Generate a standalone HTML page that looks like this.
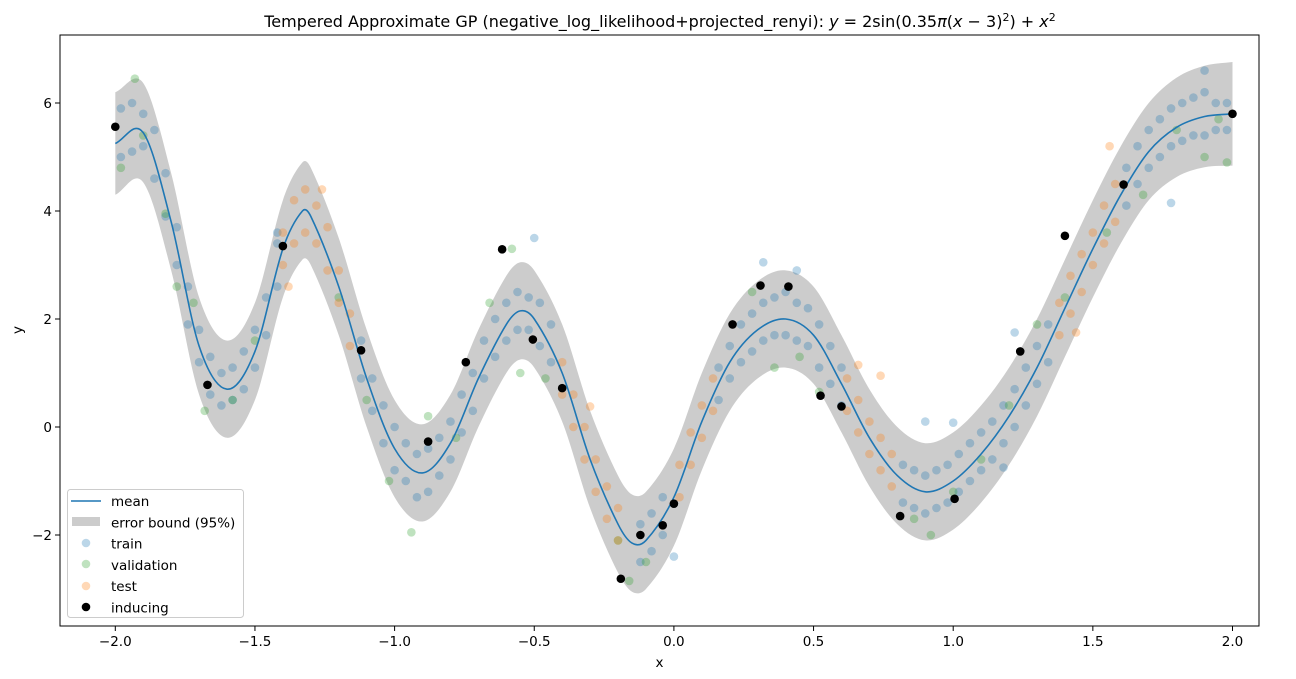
<!DOCTYPE html>
<html><head><meta charset="utf-8"><style>
html,body{margin:0;padding:0;background:#fff;}
svg{display:block;font-family:"DejaVu Sans","Liberation Sans",sans-serif;}
</style></head><body>
<svg id="chart" width="1296" height="679">
<text x="660" y="27" font-size="16" text-anchor="middle">Tempered Approximate GP (negative_log_likelihood+projected_renyi): <tspan font-style="italic">y</tspan> = 2sin(0.35<tspan font-style="italic">π</tspan>(<tspan font-style="italic">x</tspan> − 3)<tspan dy="-6" font-size="11">2</tspan><tspan dy="6">) + </tspan><tspan font-style="italic">x</tspan><tspan dy="-6" font-size="11">2</tspan></text>
<g id="plot"></g>
</svg>
<script>
const meanX=[-2.0,-1.9,-1.8,-1.7,-1.6,-1.5,-1.4,-1.33,-1.3,-1.2,-1.1,-1.0,-0.9,-0.8,-0.7,-0.6,-0.55,-0.5,-0.4,-0.3,-0.2,-0.15,-0.1,0.0,0.1,0.2,0.3,0.4,0.5,0.6,0.7,0.8,0.9,1.0,1.1,1.2,1.3,1.4,1.5,1.6,1.7,1.8,1.9,2.0];
const meanY=[5.25,5.45,3.8,1.5,0.7,1.4,3.3,4.0,3.9,2.6,0.9,-0.4,-0.85,-0.3,0.9,1.9,2.15,2.0,1.0,-0.6,-1.8,-2.15,-2.1,-1.3,0.1,1.2,1.8,2.0,1.7,0.8,-0.2,-0.9,-1.2,-1.0,-0.5,0.2,1.1,2.2,3.3,4.3,5.1,5.55,5.75,5.8];
const bandHalf=[0.95,0.92,0.9,0.9,0.9,0.9,0.9,0.9,0.9,0.9,0.9,0.9,0.9,0.9,0.9,0.9,0.9,0.9,0.9,0.9,0.9,0.9,0.9,0.9,0.9,0.9,0.9,0.9,0.9,0.9,0.9,0.9,0.9,0.9,0.9,0.9,0.9,0.9,0.9,0.9,0.9,0.92,0.94,0.96];
const trainData=[[-1.98,5.9],[-1.98,5.0],[-1.94,5.1],[-1.94,6.0],[-1.9,5.8],[-1.9,5.2],[-1.86,4.6],[-1.86,5.5],[-1.82,4.7],[-1.82,3.9],[-1.78,3.0],[-1.78,3.7],[-1.74,2.6],[-1.74,1.9],[-1.7,1.2],[-1.7,1.8],[-1.66,1.3],[-1.66,0.6],[-1.62,0.4],[-1.62,1.0],[-1.58,1.1],[-1.58,0.5],[-1.54,0.7],[-1.54,1.4],[-1.5,1.8],[-1.5,1.1],[-1.46,2.4],[-1.46,1.7],[-1.42,2.6],[-1.42,3.4],[-1.42,3.6],[-1.12,0.9],[-1.12,1.6],[-1.08,0.3],[-1.08,0.9],[-1.04,-0.3],[-1.04,0.4],[-1.0,0.0],[-1.0,-0.8],[-0.96,-1.0],[-0.96,-0.3],[-0.92,-1.3],[-0.92,-0.5],[-0.88,-0.4],[-0.88,-1.2],[-0.84,-0.9],[-0.84,-0.2],[-0.8,0.1],[-0.8,-0.6],[-0.76,-0.1],[-0.76,0.6],[-0.72,1.0],[-0.72,0.3],[-0.68,0.9],[-0.68,1.6],[-0.64,2.0],[-0.64,1.3],[-0.6,1.6],[-0.6,2.3],[-0.56,2.5],[-0.56,1.8],[-0.52,1.8],[-0.52,2.4],[-0.48,2.3],[-0.48,1.5],[-0.5,3.5],[-0.44,1.2],[-0.44,1.9],[-0.12,-2.5],[-0.12,-1.8],[-0.08,-1.6],[-0.08,-2.3],[-0.04,-1.3],[-0.04,-2.0],[0.0,-2.4],[0.16,0.5],[0.16,1.1],[0.2,1.5],[0.2,0.9],[0.24,1.2],[0.24,1.9],[0.28,2.1],[0.28,1.4],[0.32,1.6],[0.32,2.3],[0.32,3.05],[0.36,2.4],[0.36,1.7],[0.4,1.7],[0.4,2.5],[0.44,2.3],[0.44,1.6],[0.44,2.9],[0.48,1.5],[0.48,2.2],[0.52,1.9],[0.52,1.1],[0.56,0.8],[0.56,1.5],[0.6,1.1],[0.6,0.4],[0.82,-0.7],[0.82,-1.4],[0.86,-1.5],[0.86,-0.8],[0.9,-0.9],[0.9,-1.6],[0.9,0.1],[0.94,-1.5],[0.94,-0.8],[0.98,-0.7],[0.98,-1.4],[1.0,0.08],[1.02,-1.2],[1.02,-0.5],[1.06,-0.3],[1.06,-1.0],[1.1,-0.8],[1.1,-0.1],[1.14,0.1],[1.14,-0.6],[1.18,-0.3],[1.18,0.4],[1.18,-0.75],[1.22,0.7],[1.22,0.0],[1.22,1.75],[1.26,0.4],[1.26,1.1],[1.3,1.5],[1.3,0.8],[1.34,1.2],[1.34,1.9],[1.62,4.1],[1.62,4.8],[1.66,5.2],[1.66,4.5],[1.7,4.8],[1.7,5.5],[1.74,5.7],[1.74,5.0],[1.78,5.2],[1.78,5.9],[1.78,4.15],[1.82,6.0],[1.82,5.3],[1.86,5.4],[1.86,6.1],[1.9,6.2],[1.9,5.4],[1.9,6.6],[1.94,5.5],[1.94,6.0],[1.98,6.0],[1.98,5.5]];
const valData=[[-1.98,4.8],[-1.93,6.45],[-1.9,5.4],[-1.82,3.95],[-1.78,2.6],[-1.72,2.3],[-1.68,0.3],[-1.58,0.5],[-1.5,1.6],[-1.2,2.4],[-1.1,0.5],[-1.02,-1.0],[-0.94,-1.95],[-0.88,0.2],[-0.78,-0.2],[-0.66,2.3],[-0.58,3.3],[-0.55,1.0],[-0.46,0.9],[-0.2,-2.1],[-0.16,-2.85],[-0.1,-2.5],[0.28,2.5],[0.36,1.1],[0.45,1.3],[0.52,0.65],[0.86,-1.7],[0.92,-2.0],[1.0,-1.2],[1.1,-0.6],[1.2,0.4],[1.3,1.9],[1.4,2.4],[1.55,3.6],[1.68,4.3],[1.8,5.5],[1.9,5.0],[1.98,4.9],[1.95,5.7]];
const testData=[[-1.4,3.0],[-1.4,3.6],[-1.36,3.4],[-1.36,4.2],[-1.32,3.6],[-1.32,4.4],[-1.28,3.4],[-1.28,4.1],[-1.24,2.9],[-1.24,3.7],[-1.2,2.9],[-1.2,2.3],[-1.16,2.1],[-1.16,1.5],[-1.38,2.6],[-1.26,4.4],[-0.4,0.6],[-0.4,1.2],[-0.36,0.0],[-0.36,0.6],[-0.32,-0.6],[-0.32,0.0],[-0.28,-1.2],[-0.28,-0.6],[-0.24,-1.7],[-0.24,-1.1],[-0.2,-2.1],[-0.2,-1.5],[-0.3,0.38],[0.02,-0.7],[0.02,-1.3],[0.06,-0.1],[0.06,-0.7],[0.1,0.4],[0.1,-0.2],[0.14,0.9],[0.14,0.3],[0.62,0.3],[0.62,0.9],[0.66,0.5],[0.66,-0.1],[0.66,1.15],[0.7,0.1],[0.7,-0.5],[0.74,-0.8],[0.74,-0.2],[0.74,0.95],[0.78,-1.1],[0.78,-0.5],[1.38,1.7],[1.38,2.3],[1.42,2.1],[1.42,2.8],[1.46,2.5],[1.46,3.2],[1.44,1.75],[1.5,3.0],[1.5,3.6],[1.54,3.4],[1.54,4.1],[1.58,3.8],[1.58,4.5],[1.56,5.2]];
const inducingData=[[-2.0,5.56],[-1.67,0.78],[-1.4,3.35],[-1.12,1.42],[-0.88,-0.27],[-0.745,1.2],[-0.615,3.29],[-0.505,1.62],[-0.4,0.72],[-0.19,-2.81],[-0.12,-2.0],[-0.04,-1.82],[0.0,-1.42],[0.21,1.9],[0.31,2.62],[0.41,2.6],[0.525,0.58],[0.6,0.38],[0.81,-1.65],[1.005,-1.33],[1.24,1.4],[1.4,3.54],[1.61,4.49],[2.0,5.8]];
const xTicks=[-2.0,-1.5,-1.0,-0.5,0.0,0.5,1.0,1.5,2.0];
const yTicks=[-2,0,2,4,6];

const NS="http://www.w3.org/2000/svg";
const L=60,R=1259,T=35,B=626;
function sx(v){return 673.9+v*279.3;}
function sy(v){return 427-v*54;}
const g=document.getElementById('plot');
function mk(tag,attrs,parent){const e=document.createElementNS(NS,tag);for(const k in attrs)e.setAttribute(k,attrs[k]);(parent||g).appendChild(e);return e;}
// nonuniform Hermite spline through points (x ascending or descending)
function segs(pts){
  const n=pts.length,m=[];
  for(let i=0;i<n;i++){const a=pts[Math.max(0,i-1)],b=pts[Math.min(n-1,i+1)];m.push((b[1]-a[1])/(b[0]-a[0]));}
  let d='';
  for(let i=0;i<n-1;i++){const p1=pts[i],p2=pts[i+1],dx=p2[0]-p1[0];
    d+=' C'+(p1[0]+dx/3)+','+(p1[1]+m[i]*dx/3)+' '+(p2[0]-dx/3)+','+(p2[1]-m[i+1]*dx/3)+' '+p2[0]+','+p2[1];}
  return d;}
function smooth(pts){return 'M'+pts[0][0]+','+pts[0][1]+segs(pts);}

const up=meanX.map((x,i)=>[sx(x),sy(meanY[i]+bandHalf[i])]);
const lo=meanX.map((x,i)=>[sx(x),sy(meanY[i]-bandHalf[i])]).reverse();
const band=mk('path',{d:smooth(up)+' L'+lo[0][0]+','+lo[0][1]+segs(lo)+' Z',fill:'#000',opacity:'0.2'});



function scatter(data,color,op,name){data.forEach(p=>{const c=mk('circle',{cx:sx(p[0]),cy:sy(p[1]),r:4.3,fill:color,'fill-opacity':op});

});}
scatter(trainData,'#1f77b4',0.3,'train-point');
scatter(valData,'#2ca02c',0.3,'validation-point');
scatter(testData,'#ff7f0e',0.3,'test-point');
const line=mk('path',{d:smooth(meanX.map((x,i)=>[sx(x),sy(meanY[i])])),fill:'none',stroke:'#1f77b4','stroke-width':1.6});


scatter(inducingData,'#000',1,'inducing-point');

const fr=mk('rect',{x:L,y:T,width:R-L,height:B-T,fill:'none',stroke:'#000','stroke-width':1});


xTicks.forEach(v=>{mk('line',{x1:sx(v),x2:sx(v),y1:B,y2:B+5,stroke:'#000'});
const t=mk('text',{x:sx(v),y:B+20,'font-size':13.5,'text-anchor':'middle'});t.textContent=(v<0?'−':'')+Math.abs(v).toFixed(1);

});
yTicks.forEach(v=>{mk('line',{x1:L-5,x2:L,y1:sy(v),y2:sy(v),stroke:'#000'});
const t=mk('text',{x:L-8,y:sy(v)+5,'font-size':13.5,'text-anchor':'end'});t.textContent=(v<0?'−':'')+Math.abs(v);

});
const xl=mk('text',{x:(L+R)/2,y:667,'font-size':13.5,'text-anchor':'middle'});xl.textContent='x';


const yl=mk('text',{x:22,y:330,'font-size':13.5,'text-anchor':'middle',transform:'rotate(-90 22 330)'});yl.textContent='y';



const lg=mk('g',{});


mk('rect',{x:67.5,y:489.5,width:176,height:128,rx:3,fill:'#fff','fill-opacity':0.8,stroke:'#ccc'},lg);
mk('line',{x1:71,x2:101,y1:501,y2:501,stroke:'#1f77b4','stroke-width':1.6},lg);
mk('rect',{x:72,y:517,width:28,height:9,fill:'#ccc'},lg);
const lc=[['#1f77b4',0.3,543],['#2ca02c',0.3,564],['#ff7f0e',0.3,586],['#000',1,607]];
lc.forEach(c=>mk('circle',{cx:86,cy:c[2],r:4.3,fill:c[0],'fill-opacity':c[1]},lg));
const labels=['mean','error bound (95%)','train','validation','test','inducing'];
labels.forEach((s,i)=>{const t=mk('text',{x:111,y:506+i*21.3,'font-size':13.5},lg);t.textContent=s;

});
</script>
</body></html>
